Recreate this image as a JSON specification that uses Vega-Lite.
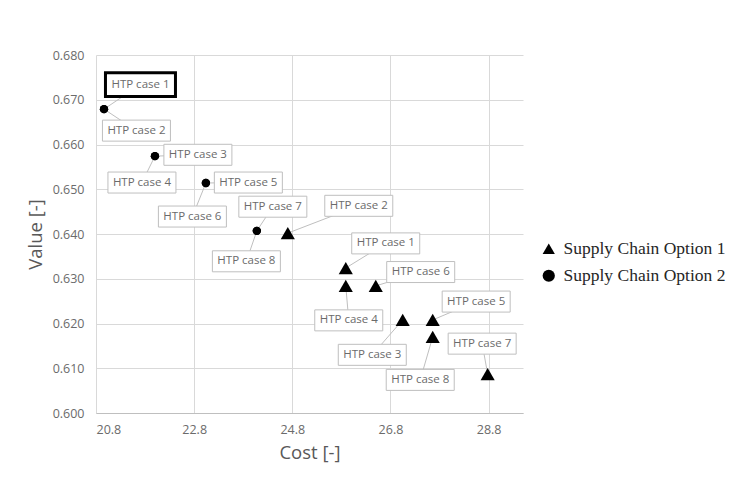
{
  "$schema": "https://vega.github.io/schema/vega-lite/v6.json",
  "autosize": {"type": "none"},
  "padding": {"left": 96, "top": 55, "right": 223, "bottom": 65},
  "width": 427,
  "height": 358,
  "background": "white",
  "config": {
    "view": {"stroke": null},
    "font": "Open Sans",
    "axis": {
      "gridColor": "#d9d9d9",
      "ticks": false,
      "labelColor": "#6b6b6b",
      "labelFontSize": 12.5,
      "labelFont": "Open Sans",
      "titleColor": "#595959",
      "titleFontSize": 18.5,
      "titleFontWeight": "normal",
      "titleFont": "Open Sans"
    }
  },
  "data": {
    "values": [
      {"series": "Supply Chain Option 2", "case": "HTP case 1", "cost": 20.963, "value": 0.6679, "labelCost": 21.706, "labelValue": 0.6734},
      {"series": "Supply Chain Option 2", "case": "HTP case 2", "cost": 20.963, "value": 0.6679, "labelCost": 21.624, "labelValue": 0.6631},
      {"series": "Supply Chain Option 2", "case": "HTP case 3", "cost": 22.001, "value": 0.6574, "labelCost": 22.876, "labelValue": 0.6577},
      {"series": "Supply Chain Option 2", "case": "HTP case 4", "cost": 22.001, "value": 0.6574, "labelCost": 21.736, "labelValue": 0.6515},
      {"series": "Supply Chain Option 2", "case": "HTP case 5", "cost": 23.039, "value": 0.6514, "labelCost": 23.904, "labelValue": 0.6515},
      {"series": "Supply Chain Option 2", "case": "HTP case 6", "cost": 23.039, "value": 0.6514, "labelCost": 22.764, "labelValue": 0.6439},
      {"series": "Supply Chain Option 2", "case": "HTP case 7", "cost": 24.077, "value": 0.6407, "labelCost": 24.403, "labelValue": 0.6461},
      {"series": "Supply Chain Option 2", "case": "HTP case 8", "cost": 24.077, "value": 0.6407, "labelCost": 23.864, "labelValue": 0.6339},
      {"series": "Supply Chain Option 1", "case": "HTP case 2", "cost": 24.708, "value": 0.6402, "labelCost": 26.154, "labelValue": 0.6463},
      {"series": "Supply Chain Option 1", "case": "HTP case 1", "cost": 25.889, "value": 0.6324, "labelCost": 26.703, "labelValue": 0.6379},
      {"series": "Supply Chain Option 1", "case": "HTP case 4", "cost": 25.889, "value": 0.6284, "labelCost": 25.950, "labelValue": 0.6207},
      {"series": "Supply Chain Option 1", "case": "HTP case 6", "cost": 26.500, "value": 0.6284, "labelCost": 27.416, "labelValue": 0.6315},
      {"series": "Supply Chain Option 1", "case": "HTP case 3", "cost": 27.049, "value": 0.6208, "labelCost": 26.429, "labelValue": 0.6130},
      {"series": "Supply Chain Option 1", "case": "HTP case 5", "cost": 27.660, "value": 0.6208, "labelCost": 28.546, "labelValue": 0.6249},
      {"series": "Supply Chain Option 1", "case": "HTP case 8", "cost": 27.660, "value": 0.6170, "labelCost": 27.406, "labelValue": 0.6074},
      {"series": "Supply Chain Option 1", "case": "HTP case 7", "cost": 28.780, "value": 0.6087, "labelCost": 28.668, "labelValue": 0.6155}
    ]
  },
  "layer": [
    {
      "mark": {"type": "rule", "color": "#bfbfbf", "strokeWidth": 1},
      "encoding": {
        "x": {
          "field": "cost", "type": "quantitative",
          "scale": {"domain": [20.8, 29.5], "nice": false, "zero": false},
          "axis": {
            "values": [20.8, 22.8, 24.8, 26.8, 28.8],
            "format": ".1f",
            "title": "Cost [-]",
            "domainColor": "#bfbfbf",
            "labelPadding": 10,
            "titlePadding": 8
          }
        },
        "y": {
          "field": "value", "type": "quantitative",
          "scale": {"domain": [0.6, 0.68], "nice": false, "zero": false},
          "axis": {
            "values": [0.6, 0.61, 0.62, 0.63, 0.64, 0.65, 0.66, 0.67, 0.68],
            "format": ".3f",
            "title": "Value [-]",
            "domain": false,
            "labelPadding": 12,
            "titlePadding": 7
          }
        },
        "x2": {"field": "labelCost"},
        "y2": {"field": "labelValue"}
      }
    },
    {
      "transform": [{"filter": "datum.series == 'Supply Chain Option 1'"}],
      "mark": {"type": "point", "filled": true, "color": "black", "opacity": 1, "size": 200},
      "encoding": {
        "x": {"field": "cost", "type": "quantitative"},
        "y": {"field": "value", "type": "quantitative"},
        "shape": {
          "field": "series", "type": "nominal",
          "scale": {"domain": ["Supply Chain Option 1", "Supply Chain Option 2"], "range": ["triangle-up", "circle"]},
          "legend": {
            "orient": "none",
            "legendX": 444,
            "legendY": 185,
            "title": null,
            "labelFont": "Liberation Serif",
            "labelFontSize": 17.5,
            "labelColor": "#262626",
            "labelLimit": 300,
            "symbolFillColor": "black",
            "symbolStrokeColor": "black",
            "symbolSize": 150,
            "symbolOpacity": 1,
            "rowPadding": 8,
            "labelOffset": 6
          }
        }
      }
    },
    {
      "transform": [{"filter": "datum.series == 'Supply Chain Option 2'"}],
      "mark": {"type": "point", "filled": true, "color": "black", "opacity": 1, "size": 70},
      "encoding": {
        "x": {"field": "cost", "type": "quantitative"},
        "y": {"field": "value", "type": "quantitative"},
        "shape": {"field": "series", "type": "nominal"}
      }
    },
    {
      "mark": {
        "type": "point",
        "shape": "M-1,-0.309L1,-0.309L1,0.309L-1,0.309Z",
        "size": 4624,
        "filled": true,
        "fill": "white",
        "stroke": "#bfbfbf",
        "strokeWidth": 1,
        "opacity": 1
      },
      "encoding": {
        "x": {"field": "labelCost", "type": "quantitative"},
        "y": {"field": "labelValue", "type": "quantitative"}
      }
    },
    {
      "transform": [{"filter": "datum.series == 'Supply Chain Option 2' && datum.case == 'HTP case 1'"}],
      "mark": {
        "type": "point",
        "shape": "M-1,-0.34L1,-0.34L1,0.34L-1,0.34Z",
        "size": 4900,
        "filled": true,
        "fill": "white",
        "stroke": "black",
        "strokeWidth": 3,
        "opacity": 1
      },
      "encoding": {
        "x": {"field": "labelCost", "type": "quantitative"},
        "y": {"field": "labelValue", "type": "quantitative"}
      }
    },
    {
      "mark": {"type": "text", "font": "Open Sans", "fontSize": 11.5, "color": "#6b6b6b", "align": "center", "baseline": "middle"},
      "encoding": {
        "x": {"field": "labelCost", "type": "quantitative"},
        "y": {"field": "labelValue", "type": "quantitative"},
        "text": {"field": "case"}
      }
    }
  ]
}
